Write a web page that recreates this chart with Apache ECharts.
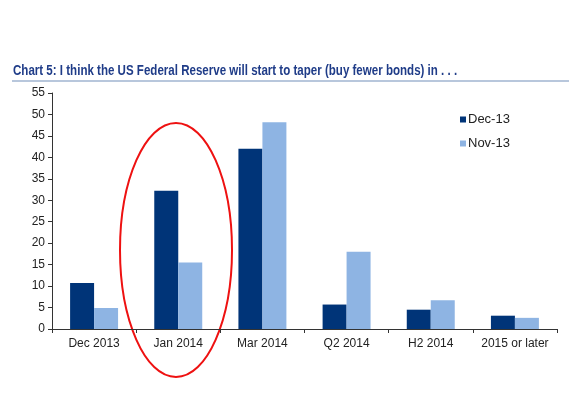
<!DOCTYPE html>
<html>
<head>
<meta charset="UTF-8">
<title>Chart 5</title>
<script src="https://cdn.jsdelivr.net/npm/echarts@6/dist/echarts.min.js"></script>
<style>
    html, body { margin: 0; padding: 0; background: #fff; }
    #main { width: 569px; height: 398px; }
</style>
</head>
<body>
<div id="main"></div>
<script>
    var categories = ['Dec 2013', 'Jan 2014', 'Mar 2014', 'Q2 2014', 'H2 2014', '2015 or later'];
    var dec13 = [10.7, 32.2, 42.0, 5.7, 4.5, 3.1];
    var nov13 = [4.9, 15.5, 48.2, 18.0, 6.7, 2.6];
    var titleText = 'Chart 5: I think the US Federal Reserve will start to taper (buy fewer bonds) in . . .';

    var myChart = echarts.init(document.getElementById('main'));
    var option = {
        animation: false,
        legend: {
            orient: 'vertical',
            left: 455,
            top: 108,
            itemWidth: 6,
            itemHeight: 6,
            itemGap: 11,
            icon: 'rect',
            textStyle: { color: '#222', fontSize: 13, fontFamily: 'Liberation Sans, Arial', padding: [0, 0, 0, -3] },
            data: ['Dec-13', 'Nov-13']
        },
        grid: { left: 52, right: 12, top: 93, bottom: 69 },
        xAxis: {
            type: 'category',
            data: categories,
            axisLine: { lineStyle: { color: '#333', width: 1 } },
            axisTick: { show: true, length: 4, lineStyle: { color: '#333' } },
            axisLabel: { interval: 0, color: '#222', fontSize: 12, fontFamily: 'Liberation Sans, Arial', margin: 9 }
        },
        yAxis: {
            type: 'value',
            min: 0,
            max: 55,
            interval: 5,
            splitLine: { show: false },
            axisLine: { show: true, lineStyle: { color: '#333', width: 1 } },
            axisTick: { show: true, length: 4, lineStyle: { color: '#333' } },
            axisLabel: { color: '#222', fontSize: 12, fontFamily: 'Liberation Sans, Arial', margin: 7 }
        },
        series: [
            {
                name: 'Dec-13',
                type: 'bar',
                data: dec13,
                barGap: '0%',
                barCategoryGap: '43%',
                itemStyle: { color: '#003478' }
            },
            {
                name: 'Nov-13',
                type: 'bar',
                data: nov13,
                itemStyle: { color: '#8eb4e3' }
            }
        ],
        graphic: [
            {
                type: 'text',
                x: 13,
                y: 63,
                scaleX: 0.77,
                style: {
                    text: titleText,
                    fill: '#1f3c88',
                    font: 'bold 15px "Liberation Sans", Arial'
                }
            },
            {
                type: 'line',
                shape: { x1: 12, y1: 81, x2: 569, y2: 81 },
                style: { stroke: '#b8c7dc', lineWidth: 2 }
            },
            {
                type: 'ellipse',
                shape: { cx: 176, cy: 250, rx: 56, ry: 127 },
                style: { fill: 'none', stroke: '#ee1111', lineWidth: 2 }
            }
        ]
    };
    myChart.setOption(option);
</script>
</body>
</html>
